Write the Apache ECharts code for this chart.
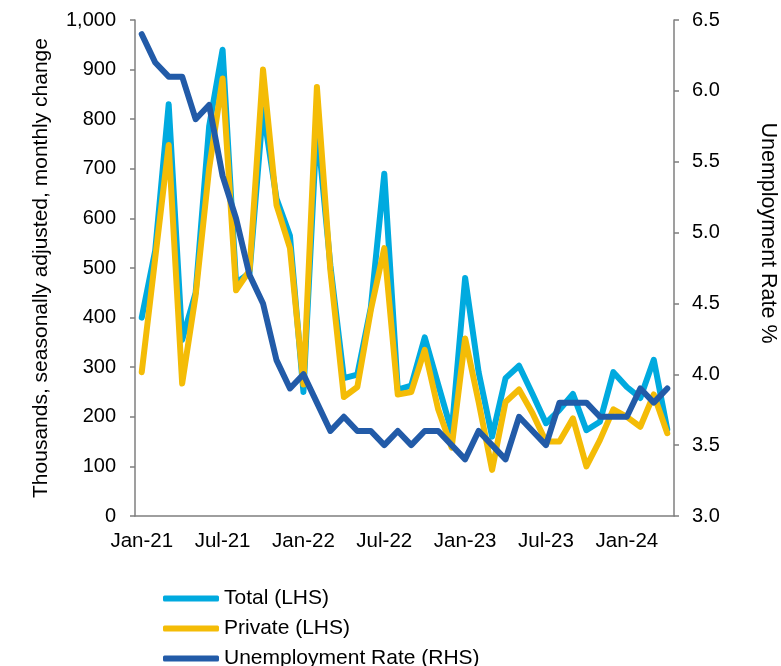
<!DOCTYPE html>
<html>
<head>
<meta charset="utf-8">
<script src="https://cdn.jsdelivr.net/npm/echarts@6/dist/echarts.min.js"></script>
<style>
  html, body { margin: 0; padding: 0; background: #fff; }
  #chart { width: 781px; height: 666px; }
</style>
</head>
<body>
<div id="chart"></div>
<script>
// Monthly periods, Jan-21 .. Apr-24
const months = [
  'Jan-21','Feb-21','Mar-21','Apr-21','May-21','Jun-21','Jul-21','Aug-21','Sep-21','Oct-21','Nov-21','Dec-21',
  'Jan-22','Feb-22','Mar-22','Apr-22','May-22','Jun-22','Jul-22','Aug-22','Sep-22','Oct-22','Nov-22','Dec-22',
  'Jan-23','Feb-23','Mar-23','Apr-23','May-23','Jun-23','Jul-23','Aug-23','Sep-23','Oct-23','Nov-23','Dec-23',
  'Jan-24','Feb-24','Mar-24','Apr-24'
];

// Payroll change, thousands (LHS)
const totalPayrolls = [
  400, 535, 830, 355, 450, 785, 940, 470, 490, 820, 640, 565,
  250, 790, 505, 278, 285, 420, 690, 255, 263, 360, 265, 170,
  480, 290, 160, 278, 303, 246, 187, 214, 246, 173, 190, 290,
  260, 238, 315, 175
];
const privatePayrolls = [
  290, 520, 748, 267, 445, 700, 882, 455, 495, 900, 627, 540,
  265, 865, 495, 240, 260, 415, 540, 245, 250, 335, 215, 138,
  358, 230, 93, 230, 255, 207, 150, 150, 197, 100, 153, 215,
  200, 180, 245, 167
];

// Unemployment rate, % (RHS)
const unemploymentRate = [
  6.4, 6.2, 6.1, 6.1, 5.8, 5.9, 5.4, 5.1, 4.7, 4.5, 4.1, 3.9,
  4.0, 3.8, 3.6, 3.7, 3.6, 3.6, 3.5, 3.6, 3.5, 3.6, 3.6, 3.5,
  3.4, 3.6, 3.5, 3.4, 3.7, 3.6, 3.5, 3.8, 3.8, 3.8, 3.7, 3.7,
  3.7, 3.9, 3.8, 3.9
];

const FONT = 'Arial, "Liberation Sans", sans-serif';
const AXIS_GREY = '#7f7f7f';
const C_TOTAL = '#00AADF';
const C_PRIVATE = '#F4BC06';
const C_RATE = '#225BA8';

const chart = echarts.init(document.getElementById('chart'), null, { renderer: 'canvas' });

const lineSeries = (name, data, color, yAxisIndex) => ({
  name, type: 'line', data, yAxisIndex,
  symbol: 'none', smooth: false,
  lineStyle: { color, width: 6, cap: 'round', join: 'round' },
  itemStyle: { color },
  emphasis: { disabled: true },
  animation: false
});

chart.setOption({
  backgroundColor: '#fff',
  textStyle: { fontFamily: FONT },
  grid: {
    left: 135, right: 107, top: 20, bottom: 150,
    containLabel: false, outerBoundsMode: 'none'
  },
  legend: {
    orient: 'vertical',
    left: 163, top: 588,
    height: 120,
    padding: 0,
    itemWidth: 56, itemHeight: 6, itemGap: 9,
    icon: 'roundRect',
    textStyle: { fontSize: 21, color: '#000', fontFamily: FONT },
    data: ['Total (LHS)', 'Private (LHS)', 'Unemployment Rate (RHS)']
  },
  xAxis: {
    type: 'category',
    data: months,
    boundaryGap: true,
    axisLine: { lineStyle: { color: AXIS_GREY, width: 1.5 } },
    axisTick: { interval: 5, length: 5, lineStyle: { color: AXIS_GREY, width: 1.5 } },
    axisLabel: { interval: 5, fontSize: 20.5, color: '#000', margin: 15, fontFamily: FONT },
    splitLine: { show: false }
  },
  yAxis: [
    {
      type: 'value', min: 0, max: 1000, interval: 100,
      position: 'left',
      name: 'Thousands, seasonally adjusted, monthly change',
      nameLocation: 'middle', nameGap: 83, nameRotate: 90,
      nameTextStyle: { fontSize: 21, color: '#000', fontFamily: FONT },
      axisLine: { show: true, lineStyle: { color: AXIS_GREY, width: 1.5 } },
      axisTick: { show: true, length: 5, lineStyle: { color: AXIS_GREY, width: 1.5 } },
      axisLabel: {
        fontSize: 20, color: '#000', margin: 19, fontFamily: FONT,
        formatter: v => v.toLocaleString('en-US')
      },
      splitLine: { show: false }
    },
    {
      type: 'value', min: 3, max: 6.5, interval: 0.5,
      position: 'right',
      name: 'Unemployment Rate %',
      nameLocation: 'middle', nameGap: 83, nameRotate: -90,
      nameTextStyle: { fontSize: 21.5, color: '#000', fontFamily: FONT, padding: [0, 70, 0, 0] },
      axisLine: { show: true, lineStyle: { color: AXIS_GREY, width: 1.5 } },
      axisTick: { show: true, length: 5, lineStyle: { color: AXIS_GREY, width: 1.5 } },
      axisLabel: {
        fontSize: 20, color: '#000', margin: 18, fontFamily: FONT,
        formatter: v => v.toFixed(1)
      },
      splitLine: { show: false }
    }
  ],
  series: [
    lineSeries('Total (LHS)', totalPayrolls, C_TOTAL, 0),
    lineSeries('Private (LHS)', privatePayrolls, C_PRIVATE, 0),
    lineSeries('Unemployment Rate (RHS)', unemploymentRate, C_RATE, 1)
  ]
});
</script>
</body>
</html>
